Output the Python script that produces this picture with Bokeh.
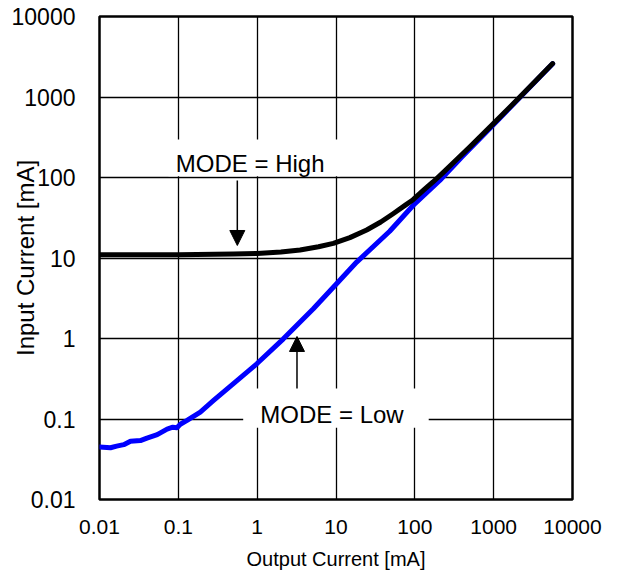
from bokeh.plotting import figure
from bokeh.models import FixedTicker, Arrow, NormalHead, Label, BoxAnnotation, Range1d
from bokeh.embed import file_html
from bokeh.resources import INLINE

# ---- data ----
x_ticks = [0.01, 0.1, 1, 10, 100, 1000, 10000]
x_tick_labels = ["0.01", "0.1", "1", "10", "100", "1000", "10000"]
y_ticks = [0.01, 0.1, 1, 10, 100, 1000, 10000]
y_tick_labels = ["0.01", "0.1", "1", "10", "100", "1000", "10000"]

# MODE = High (black)
x_high = [0.01, 0.1, 0.5, 1, 2, 3.5, 6, 9.25, 15, 24.5, 37, 53, 75, 95, 130, 170,
          230, 337, 500, 1000, 2000, 3500, 5600]
y_high = [11.0, 11.0, 11.2, 11.4, 11.9, 12.6, 13.8, 15.2, 17.9, 22.3, 28, 35.5, 45, 53, 70, 88,
          116, 166, 240, 470, 930, 1630, 2600]

# MODE = Low (blue)
x_low = [0.01, 0.0138, 0.0165, 0.0203, 0.0247, 0.033, 0.040, 0.054, 0.072, 0.085, 0.096,
         0.106, 0.129, 0.19, 0.28, 0.5, 0.99, 2.15, 5.16, 9.7, 18.3, 48, 95, 207,
         400, 700, 1000, 2000, 3500, 5600]
y_low = [0.045, 0.044, 0.046, 0.048, 0.053, 0.054, 0.058, 0.064, 0.075, 0.079, 0.078,
         0.086, 0.096, 0.122, 0.17, 0.275, 0.485, 0.99, 2.34, 4.55, 8.9, 21.5, 44.9, 92,
         182, 318, 455, 915, 1610, 2590]

FONT = "Liberation Sans"

p = figure(width=604, height=580, x_axis_type="log", y_axis_type="log",
           x_range=Range1d(0.01, 10000), y_range=Range1d(0.01, 10000),
           output_backend="svg", toolbar_location=None,
           min_border_left=99, min_border_right=32, min_border_top=16, min_border_bottom=81)
p.background_fill_color = "white"
p.border_fill_color = "white"
p.outline_line_color = "black"
p.outline_line_width = 2.5

for ax, ticks, labels in ((p.xaxis[0], x_ticks, x_tick_labels), (p.yaxis[0], y_ticks, y_tick_labels)):
    ax.ticker = FixedTicker(ticks=ticks, minor_ticks=[])
    ax.major_label_overrides = {t: l for t, l in zip(ticks, labels)}
    ax.major_tick_out = 0
    ax.major_tick_in = 0
    ax.minor_tick_out = 0
    ax.minor_tick_in = 0
    ax.axis_line_color = None
    ax.major_label_text_font = FONT
    ax.major_label_text_color = "black"
    ax.axis_label_text_font = FONT
    ax.axis_label_text_font_style = "normal"
    ax.axis_label_text_color = "black"

p.xaxis.axis_label = "Output Current [mA]"
p.yaxis.axis_label = "Input Current [mA]"
p.xaxis.major_label_text_font_size = "21px"
p.yaxis.major_label_text_font_size = "23px"
p.xaxis.axis_label_text_font_size = "20px"
p.yaxis.axis_label_text_font_size = "24px"
p.xaxis.major_label_standoff = 20
p.yaxis.major_label_standoff = 24
p.xaxis.axis_label_standoff = 11
p.yaxis.axis_label_standoff = -30

p.xgrid.grid_line_color = "black"
p.ygrid.grid_line_color = "black"
p.xgrid.grid_line_width = 1.3
p.ygrid.grid_line_width = 1.3
p.xgrid.grid_line_alpha = 1.0
p.ygrid.grid_line_alpha = 1.0

p.line(x_low, y_low, line_color="#0000FF", line_width=5, line_join="round", line_cap="round")
p.line(x_high, y_high, line_color="black", line_width=5, line_join="round", line_cap="round")

# white boxes behind annotation texts
p.add_layout(BoxAnnotation(left=0.075, right=11.3, bottom=104, top=296,
                           fill_color="white", fill_alpha=1.0, line_color=None))
p.add_layout(BoxAnnotation(left=0.665, right=150, bottom=0.078, top=0.239,
                           fill_color="white", fill_alpha=1.0, line_color=None))

p.add_layout(Label(x=0.815, y=148, text="MODE = High", text_align="center",
                   text_baseline="middle", text_font=FONT, text_font_size="24px",
                   text_color="black"))
p.add_layout(Label(x=8.9, y=0.114, text="MODE = Low", text_align="center",
                   text_baseline="middle", text_font=FONT, text_font_size="24px",
                   text_color="black"))

p.add_layout(Arrow(end=NormalHead(size=15, fill_color="black", line_color="black"),
                   x_start=0.56, y_start=92, x_end=0.56, y_end=14.3,
                   line_color="black", line_width=1.5))
p.add_layout(Arrow(end=NormalHead(size=15, fill_color="black", line_color="black"),
                   x_start=3.2, y_start=0.239, x_end=3.2, y_end=1.06,
                   line_color="black", line_width=1.5))

open("out.html", "w").write(file_html(p, INLINE))
